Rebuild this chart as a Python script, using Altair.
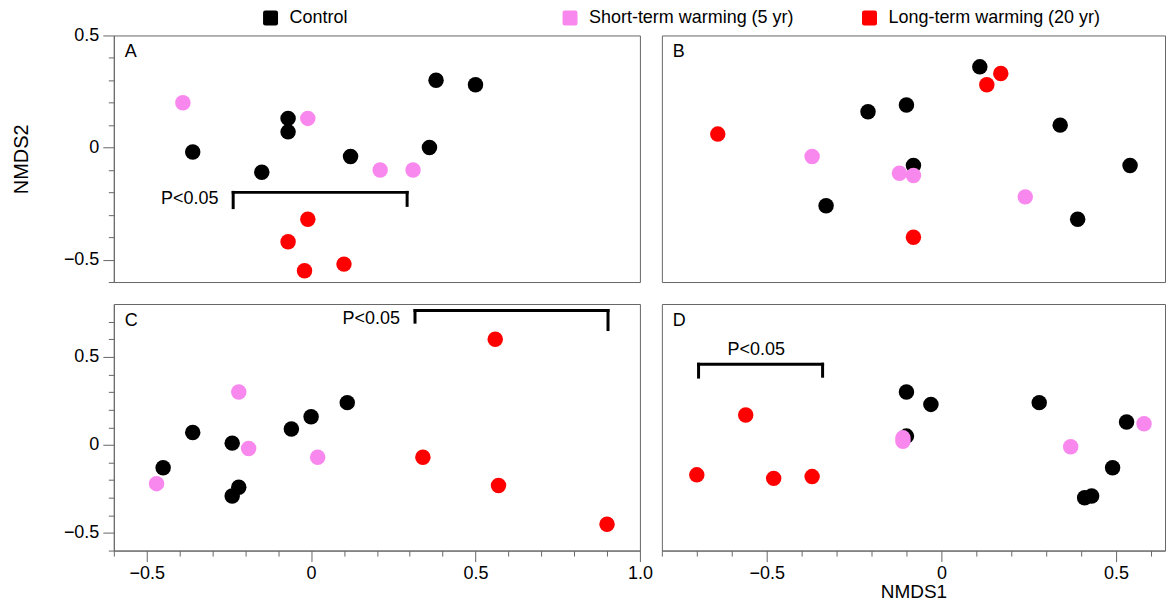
import altair as alt
import pandas as pd

FONT = "Liberation Sans"
GROUPS = ["Control", "Short-term warming (5 yr)", "Long-term warming (20 yr)"]
COLORS = ["#000000", "#F888EE", "#FF0000"]

# ---------------- data (NMDS1, NMDS2) ----------------
# Panel A
A_CTRL_X = [-0.36, -0.15, -0.07, -0.07, 0.12, 0.36, 0.38, 0.50]
A_CTRL_Y = [-0.02, -0.11, 0.13, 0.07, -0.04, 0.00, 0.30, 0.28]
A_SHORT_X = [-0.39, -0.01, 0.21, 0.31]
A_SHORT_Y = [0.20, 0.13, -0.10, -0.10]
A_LONG_X = [-0.01, -0.07, -0.02, 0.10]
A_LONG_Y = [-0.32, -0.42, -0.55, -0.52]
# Panel B
B_CTRL_X = [0.11, -0.21, -0.10, 0.34, -0.08, 0.54, -0.33, 0.39]
B_CTRL_Y = [0.36, 0.16, 0.19, 0.10, -0.08, -0.08, -0.26, -0.32]
B_SHORT_X = [-0.37, -0.12, -0.08, 0.24]
B_SHORT_Y = [-0.04, -0.115, -0.125, -0.22]
B_LONG_X = [0.17, 0.13, -0.64, -0.08]
B_LONG_Y = [0.33, 0.28, 0.06, -0.40]
# Panel C
C_CTRL_X = [-0.45, -0.36, -0.24, -0.22, -0.24, -0.06, 0.00, 0.11]
C_CTRL_Y = [-0.13, 0.07, 0.01, -0.24, -0.29, 0.09, 0.16, 0.24]
C_SHORT_X = [-0.47, -0.22, -0.19, 0.02]
C_SHORT_Y = [-0.22, 0.30, -0.02, -0.07]
C_LONG_X = [0.56, 0.34, 0.57, 0.90]
C_LONG_Y = [0.60, -0.07, -0.23, -0.45]
# Panel D
D_CTRL_X = [-0.10, -0.03, -0.10, 0.28, 0.53, 0.49, 0.41, 0.43]
D_CTRL_Y = [0.30, 0.23, 0.05, 0.24, 0.13, -0.13, -0.30, -0.29]
D_SHORT_X = [-0.11, -0.11, 0.37, 0.58]
D_SHORT_Y = [0.04, 0.02, -0.01, 0.12]
D_LONG_X = [-0.56, -0.70, -0.48, -0.37]
D_LONG_Y = [0.17, -0.17, -0.19, -0.18]

# significance brackets: [left x, right x], [bar y, left end y, right end y]
A_BRACKET_X = [-0.237, 0.292]
A_BRACKET_Y = [-0.2, -0.268, -0.258]
C_BRACKET_X = [0.316, 0.903]
C_BRACKET_Y = [0.763, 0.697, 0.655]
D_BRACKET_X = [-0.695, -0.34]
D_BRACKET_Y = [0.458, 0.385, 0.39]
P_TEXT = "P<0.05"
A_PTEXT = [-0.282, -0.229]
C_PTEXT = [0.27, 0.715]
D_PTEXT = [-0.53, 0.537]

# axis domains and ticks
LEFT_X_DOMAIN = [-0.6, 1.0]
RIGHT_X_DOMAIN = [-0.8, 0.64]
TOP_Y_DOMAIN = [-0.6, 0.5]
BOTTOM_Y_DOMAIN = [-0.6, 0.8]
LEFT_X_MAJOR = [-0.5, 0, 0.5, 1.0]
LEFT_X_MINOR = [-0.6, -0.4, -0.3, -0.2, -0.1, 0.1, 0.2, 0.3, 0.4, 0.6, 0.7, 0.8, 0.9]
RIGHT_X_MAJOR = [-0.5, 0, 0.5]
RIGHT_X_MINOR = [-0.8, -0.7, -0.6, -0.4, -0.3, -0.2, -0.1, 0.1, 0.2, 0.3, 0.4, 0.6]
Y_MAJOR = [-0.5, 0, 0.5]
TOP_Y_MINOR = [-0.6, -0.4, -0.3, -0.2, -0.1, 0.1, 0.2, 0.3, 0.4]
BOTTOM_Y_MINOR = [-0.6, -0.4, -0.3, -0.2, -0.1, 0.1, 0.2, 0.3, 0.4, 0.6, 0.7]

LABEL_EXPR = "datum.value == 0 ? '0' : format(datum.value, '.1f')"
ROUNDED_SQUARE = ("M -0.7 -1 L 0.7 -1 Q 1 -1 1 -0.7 L 1 0.7 Q 1 1 0.7 1 "
                  "L -0.7 1 Q -1 1 -1 0.7 L -1 -0.7 Q -1 -1 -0.7 -1 Z")

LEGEND = alt.Legend(
    orient="none", legendX=148, legendY=-26.4, direction="horizontal",
    columns=3, gridAlign="all", columnPadding=59, title=None,
    symbolType=ROUNDED_SQUARE, symbolSize=225, symbolStrokeWidth=0,
    symbolOpacity=1, labelFont=FONT, labelFontSize=18, labelColor="black",
    labelLimit=400, labelOffset=10,
)


def pts_df(cx, cy, sx, sy, lx, ly):
    rows = []
    for gi, (g, xs, ys) in enumerate(zip(GROUPS, [cx, sx, lx], [cy, sy, ly])):
        for x, y in zip(xs, ys):
            rows.append({"x": x, "y": y, "group": g, "gi": gi})
    return pd.DataFrame(rows)


def bracket_df(bx, by):
    return pd.DataFrame([
        {"x1": bx[0], "x2": bx[1], "y1": by[0], "y2": by[0]},
        {"x1": bx[0], "x2": bx[0], "y1": by[0], "y2": by[1]},
        {"x1": bx[1], "x2": bx[1], "y1": by[0], "y2": by[2]},
    ])


def major_axis(values, orient, title=None):
    return alt.Axis(values=values, orient=orient, tickSize=11, labelExpr=LABEL_EXPR,
                    labelFlush=False, labelOverlap=False, grid=False, title=title,
                    labelPadding=(4 if orient == "left" else 3),
                    titleFontSize=(20 if orient == "left" else 19),
                    titlePadding=(31.5 if orient == "left" else 0))


def minor_axis(values, orient):
    return alt.Axis(values=values, orient=orient, tickSize=5.5, labels=False,
                    domain=False, grid=False, title=None)


def panel(letter, df, xdom, ydom, w, h, xmaj=None, xmin=None, ymaj=None, ymin=None,
          bracket=None, ptext=None, palign="right"):
    xs = alt.Scale(domain=xdom, nice=False, zero=False)
    ys = alt.Scale(domain=ydom, nice=False, zero=False)
    base = alt.Chart(df)
    carrier = base.mark_point(opacity=0).encode(
        x=alt.X("x:Q", scale=xs, axis=xmin),
        y=alt.Y("y:Q", scale=ys, axis=ymin),
    )
    pts = base.mark_circle(size=240, opacity=1).encode(
        x=alt.X("x:Q", scale=xs, axis=xmaj),
        y=alt.Y("y:Q", scale=ys, axis=ymaj),
        color=alt.Color("group:N", scale=alt.Scale(domain=GROUPS, range=COLORS),
                        legend=LEGEND),
        order=alt.Order("gi:Q"),
    )
    lab = alt.Chart(pd.DataFrame({"t": [letter]})).mark_text(
        align="left", baseline="middle", font=FONT, fontSize=18, color="black"
    ).encode(x=alt.value(11), y=alt.value(17), text="t:N")
    layers = [carrier, pts, lab]
    if bracket is not None:
        br = alt.Chart(bracket_df(*bracket)).mark_rule(
            color="black", strokeWidth=3, strokeCap="square"
        ).encode(
            x=alt.X("x1:Q", scale=xs, axis=None), x2="x2:Q",
            y=alt.Y("y1:Q", scale=ys, axis=None), y2="y2:Q",
        )
        pt = alt.Chart(pd.DataFrame({"x": [ptext[0]], "y": [ptext[1]], "t": [P_TEXT]})).mark_text(
            align=palign, baseline="middle", font=FONT, fontSize=18, color="black"
        ).encode(
            x=alt.X("x:Q", scale=xs, axis=None),
            y=alt.Y("y:Q", scale=ys, axis=None),
            text="t:N",
        )
        layers += [br, pt]
    return alt.layer(*layers).resolve_axis(x="independent", y="independent").properties(
        width=w, height=h)


A = panel("A", pts_df(A_CTRL_X, A_CTRL_Y, A_SHORT_X, A_SHORT_Y, A_LONG_X, A_LONG_Y),
          LEFT_X_DOMAIN, TOP_Y_DOMAIN, 527, 247,
          ymaj=major_axis(Y_MAJOR, "left", "NMDS2"), ymin=minor_axis(TOP_Y_MINOR, "left"),
          bracket=(A_BRACKET_X, A_BRACKET_Y), ptext=A_PTEXT)
B = panel("B", pts_df(B_CTRL_X, B_CTRL_Y, B_SHORT_X, B_SHORT_Y, B_LONG_X, B_LONG_Y),
          RIGHT_X_DOMAIN, TOP_Y_DOMAIN, 504, 247)
C = panel("C", pts_df(C_CTRL_X, C_CTRL_Y, C_SHORT_X, C_SHORT_Y, C_LONG_X, C_LONG_Y),
          LEFT_X_DOMAIN, BOTTOM_Y_DOMAIN, 527, 247,
          xmaj=major_axis(LEFT_X_MAJOR, "bottom"), xmin=minor_axis(LEFT_X_MINOR, "bottom"),
          ymaj=major_axis(Y_MAJOR, "left"), ymin=minor_axis(BOTTOM_Y_MINOR, "left"),
          bracket=(C_BRACKET_X, C_BRACKET_Y), ptext=C_PTEXT)
D = panel("D", pts_df(D_CTRL_X, D_CTRL_Y, D_SHORT_X, D_SHORT_Y, D_LONG_X, D_LONG_Y),
          RIGHT_X_DOMAIN, BOTTOM_Y_DOMAIN, 504, 247,
          xmaj=major_axis(RIGHT_X_MAJOR, "bottom", "NMDS1"), xmin=minor_axis(RIGHT_X_MINOR, "bottom"),
          bracket=(D_BRACKET_X, D_BRACKET_Y), ptext=D_PTEXT, palign="center")

chart = alt.concat(A, B, C, D, columns=2, spacing=22, bounds="flush").properties(
    padding={"left": 3, "top": 0, "right": 0, "bottom": 0}
).configure(font=FONT).configure_view(
    stroke="#666666", strokeWidth=1
).configure_axis(
    labelFont=FONT, labelFontSize=18, labelColor="black",
    titleFont=FONT, titleFontWeight="normal", titleColor="black",
    tickColor="#666666", domainColor="#666666", tickWidth=1, domainWidth=1,
)

chart.save("out.html", embed_options={"renderer": "svg", "actions": False})
